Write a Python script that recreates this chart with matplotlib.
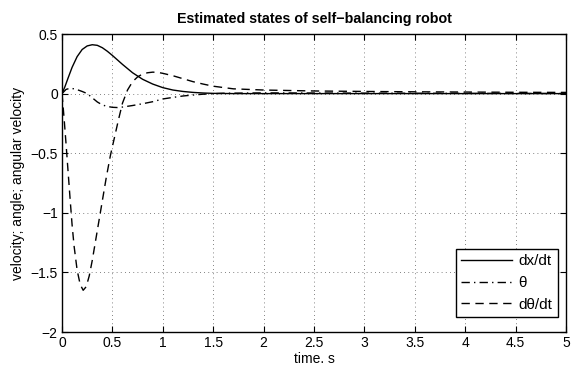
import matplotlib
matplotlib.use("Agg")
import matplotlib.pyplot as plt

plt.rcParams['font.family'] = ['Liberation Sans', 'DejaVu Sans']
plt.rcParams['axes.unicode_minus'] = True

# values
t_dx = [0, 0.03, 0.06, 0.1, 0.15, 0.2, 0.25, 0.3, 0.35, 0.4, 0.45, 0.5, 0.6,
        0.7, 0.8, 0.9, 1.0, 1.1, 1.2, 1.3, 1.4, 1.5, 1.7, 2.0, 3.0, 4.0, 5.0]
dx_dt = [0, 0.06, 0.13, 0.22, 0.31, 0.37, 0.40, 0.41, 0.405, 0.385, 0.355, 0.32, 0.245,
         0.175, 0.12, 0.08, 0.05, 0.03, 0.018, 0.01, 0.005, 0.002, 0, 0, 0, 0, 0]

t_th = [0, 0.04, 0.08, 0.12, 0.16, 0.2, 0.25, 0.3, 0.35, 0.4, 0.45, 0.5, 0.55, 0.6,
        0.7, 0.8, 0.9, 1.0, 1.1, 1.2, 1.3, 1.4, 1.6, 2.0, 2.5, 3.0, 4.0, 5.0]
theta = [0, 0.035, 0.045, 0.04, 0.03, 0.018, 0, -0.035, -0.07, -0.095, -0.108, -0.115, -0.117, -0.113,
         -0.1, -0.085, -0.068, -0.045, -0.032, -0.02, -0.012, -0.005, 0.003, 0.006, 0.005, 0.004, 0.002, 0.001]

t_dth = [0, 0.02, 0.04, 0.06, 0.08, 0.1, 0.12, 0.15, 0.18, 0.21, 0.24, 0.27, 0.3, 0.33,
         0.36, 0.4, 0.44, 0.48, 0.52, 0.56, 0.6, 0.65, 0.7, 0.75, 0.8, 0.85, 0.9, 0.95,
         1.0, 1.1, 1.2, 1.3, 1.4, 1.5, 1.7, 2.0, 2.5, 3.0, 3.5, 4.0, 4.5, 5.0]
dtheta_dt = [0, -0.2, -0.42, -0.65, -0.88, -1.1, -1.28, -1.48, -1.6, -1.65, -1.62, -1.53, -1.4, -1.25,
             -1.1, -0.9, -0.7, -0.52, -0.37, -0.22, -0.08, 0.03, 0.1, 0.14, 0.165, 0.175, 0.18, 0.178,
             0.17, 0.15, 0.125, 0.1, 0.08, 0.062, 0.04, 0.03, 0.022, 0.018, 0.015, 0.013, 0.011, 0.01]

xticks = [0, 0.5, 1, 1.5, 2, 2.5, 3, 3.5, 4, 4.5, 5]
xticklabels = ['0', '0.5', '1', '1.5', '2', '2.5', '3', '3.5', '4', '4.5', '5']
yticks = [-2, -1.5, -1, -0.5, 0, 0.5]
yticklabels = ['\u22122', '\u22121.5', '\u22121', '\u22120.5', '0', '0.5']

fig = plt.figure(figsize=(5.71, 3.66), dpi=100)
ax = fig.add_axes([62/571, 34/366, 504/571, 298/366])

ax.plot(t_dx, dx_dt, color='black', lw=1.0, ls='-', label='dx/dt')
ax.plot(t_th, theta, color='black', lw=1.0, ls=(0, (6, 3, 1, 3)), label='\u03b8')
ax.plot(t_dth, dtheta_dt, color='black', lw=1.0, ls=(0, (6, 4)), label='d\u03b8/dt')

ax.set_xlim(0, 5)
ax.set_ylim(-2, 0.5)
ax.set_xticks(xticks)
ax.set_xticklabels(xticklabels)
ax.set_yticks(yticks)
ax.set_yticklabels(yticklabels)
ax.tick_params(direction='in', top=True, right=True, length=4, width=0.8, labelsize=10, pad=3)
for s in ax.spines.values():
    s.set_linewidth(1.0)
ax.grid(True, ls=(0, (1, 4)), color='0.35', lw=0.6)

ax.set_title('Estimated states of self\u2212balancing robot', fontsize=10.3, fontweight='bold', pad=8)
ax.set_xlabel('time. s', fontsize=10, labelpad=1)
ax.set_ylabel('velocity; angle; angular velocity', fontsize=10, labelpad=4)

leg = ax.legend(loc='lower right', bbox_to_anchor=(0.984, 0.05), borderaxespad=0,
                fontsize=11, fancybox=False, handlelength=3.3, framealpha=1,
                edgecolor='black', borderpad=0.35, labelspacing=0.5, handletextpad=0.45)
leg.get_frame().set_linewidth(1.0)

fig.savefig('out.png', dpi=100)
